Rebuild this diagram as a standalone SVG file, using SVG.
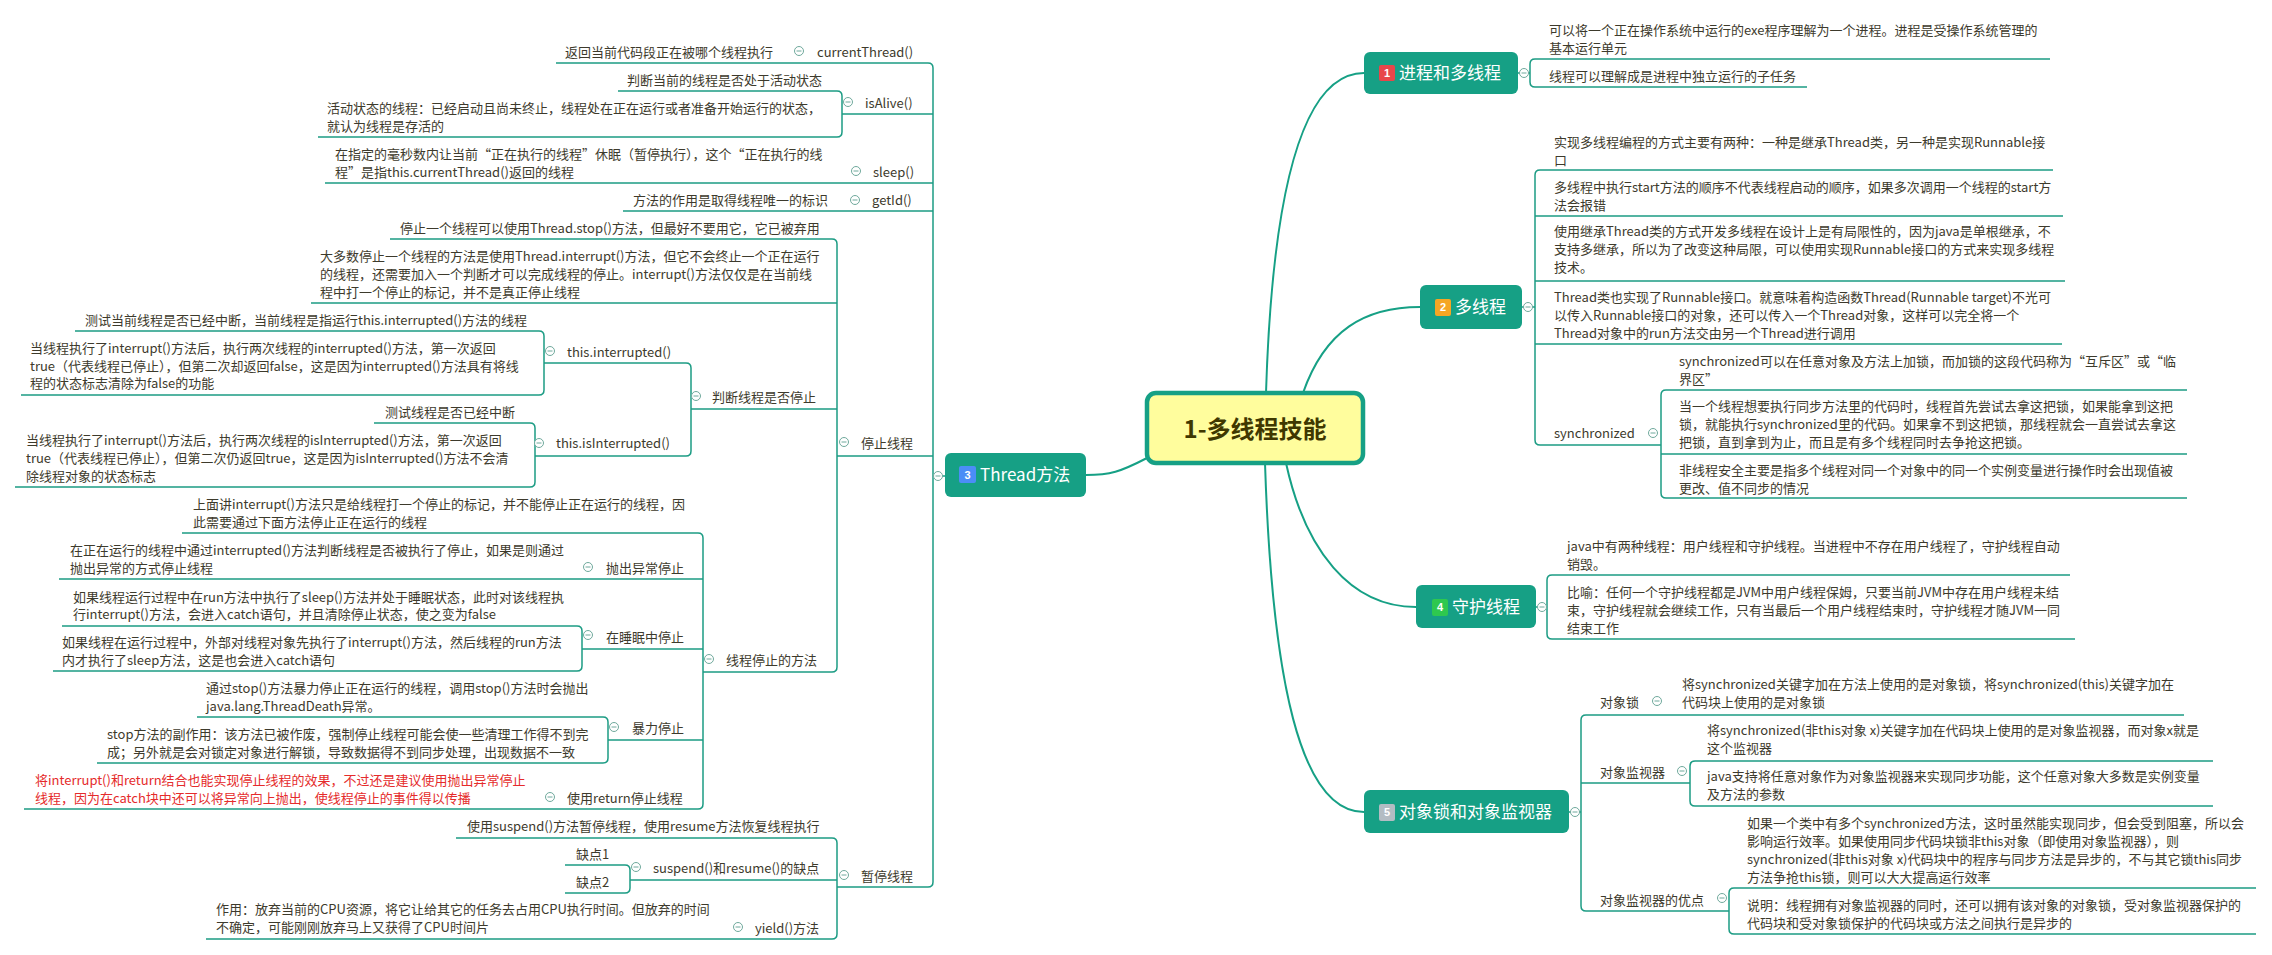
<svg xmlns="http://www.w3.org/2000/svg" width="2272" height="955" viewBox="0 0 2272 955">
<style>
.l{fill:none;stroke:#1c9c84;stroke-width:1.5}
.m{fill:none;stroke:#16a085;stroke-width:2}
.t{font-family:"Noto Sans CJK SC","Microsoft YaHei",sans-serif;font-size:13px;fill:#3d3a2c}
.r{fill:#e52b2b}
.n{fill:#16a085}
.nt{font-family:"Noto Sans CJK SC","Microsoft YaHei",sans-serif;font-size:17px;fill:#ffffff}
.b{font-family:"Liberation Sans",Arial,sans-serif;font-size:11px;font-weight:bold;fill:#ffffff;text-anchor:middle}
.cc{fill:#ffffff;stroke:#6fa99c;stroke-width:1}
.cm{stroke:#6fa99c;stroke-width:1}
</style>
<defs>
<g id="col"><circle class="cc" cx="0" cy="0" r="4.5"/><line class="cm" x1="-2.5" y1="0" x2="2.5" y2="0"/></g>
</defs>
<rect width="2272" height="955" fill="#ffffff"/>

<g id="connectors">
<path class="m" d="M1266,393 C1272,200 1300,73 1364,73"/>
<path class="m" d="M1303,393 C1325,330 1365,307 1420,307"/>
<path class="m" d="M1286,463 C1305,550 1350,607 1416,607"/>
<path class="m" d="M1265,463 C1272,680 1300,812 1364,812"/>
<path class="m" d="M1147,458 C1120,472 1110,475 1086,475"/>
<!-- right -->
<path class="l" d="M1518,73 H1530"/>
<path class="l" d="M2050,59 H1535 Q1530,59 1530,64 V82 Q1530,87 1535,87 H1807"/>
<path class="l" d="M1522,307 H1535"/>
<path class="l" d="M2053,170 H1540 Q1535,170 1535,175 V440 Q1535,445 1540,445 H1661"/>
<path class="l" d="M1535,216 H2063 M1535,281 H2065 M1535,344 H2062"/>
<path class="l" d="M2187,390 H1666 Q1661,390 1661,395 V493 Q1661,498 1666,498 H2187 M1661,454 H2187"/>
<path class="l" d="M1536,607 H1547"/>
<path class="l" d="M2070,575 H1552 Q1547,575 1547,580 V634 Q1547,639 1552,639 H2075"/>
<path class="l" d="M1569,812 H1581"/>
<path class="l" d="M2184,715 H1586 Q1581,715 1581,720 V906 Q1581,911 1586,911 H1729 M1581,783 H1690"/>
<path class="l" d="M2213,761 H1695 Q1690,761 1690,766 V801 Q1690,806 1695,806 H2213"/>
<path class="l" d="M2256,888 H1734 Q1729,888 1729,893 V929 Q1729,934 1734,934 H2256"/>
<!-- left -->
<path class="l" d="M933,476 H945"/>
<path class="l" d="M556,63 H928 Q933,63 933,68 V882 Q933,887 928,887 H837 M842,114 H933 M325,183 H933 M623,211 H933 M837,456 H933"/>
<path class="l" d="M618,91 H837 Q842,91 842,96 V132 Q842,137 837,137 H318"/>
<path class="l" d="M390,239 H832 Q837,239 837,244 V667 Q837,672 832,672 H703 M311,303 H837 M691,409 H837"/>
<path class="l" d="M544,363 H686 Q691,363 691,368 V451 Q691,456 686,456 H535"/>
<path class="l" d="M75,331 H539 Q544,331 544,336 V390 Q544,395 539,395 H21"/>
<path class="l" d="M374,423 H530 Q535,423 535,428 V482 Q535,487 530,487 H15"/>
<path class="l" d="M182,533 H698 Q703,533 703,538 V804 Q703,809 698,809 H24 M59,579 H703 M582,649 H703 M608,740 H703"/>
<path class="l" d="M62,626 H577 Q582,626 582,631 V666 Q582,671 577,671 H53"/>
<path class="l" d="M197,717 H603 Q608,717 608,722 V758 Q608,763 603,763 H97"/>
<path class="l" d="M456,838 H832 Q837,838 837,843 V934 Q837,939 832,939 H206 M630,880 H837"/>
<path class="l" d="M565,865 H625 Q630,865 630,870 V888 Q630,893 625,893 H565"/>
</g>

<g id="root">
<rect x="1147" y="393" width="216" height="70" rx="9" fill="#fffd9d" stroke="#16a085" stroke-width="4.5"/>
<text x="1255" y="438" text-anchor="middle" font-family="'Noto Sans CJK SC','Microsoft YaHei',sans-serif" font-size="24" font-weight="bold" fill="#3f3800">1-多线程技能</text>
</g>

<g id="n1">
<rect class="n" x="1364" y="52" width="154" height="42" rx="6"/>
<rect x="1379" y="65" width="16" height="16" rx="2" fill="#e8464a"/>
<text class="b" x="1387" y="77">1</text>
<text class="nt" x="1399" y="79">进程和多线程</text>
<use href="#col" x="1524" y="73"/>
<text class="t" x="1549" y="35">可以将一个正在操作系统中运行的exe程序理解为一个进程。进程是受操作系统管理的</text>
<text class="t" x="1549" y="53">基本运行单元</text>
<text class="t" x="1549" y="81">线程可以理解成是进程中独立运行的子任务</text>
</g>

<g id="n2">
<rect class="n" x="1420" y="285" width="102" height="44" rx="6"/>
<rect x="1435" y="299" width="16" height="17" rx="2" fill="#f5a623"/>
<text class="b" x="1443" y="311">2</text>
<text class="nt" x="1455" y="313">多线程</text>
<use href="#col" x="1528" y="307"/>
<text class="t" x="1554" y="147">实现多线程编程的方式主要有两种：一种是继承Thread类，另一种是实现Runnable接</text>
<text class="t" x="1554" y="165">口</text>
<text class="t" x="1554" y="192">多线程中执行start方法的顺序不代表线程启动的顺序，如果多次调用一个线程的start方</text>
<text class="t" x="1554" y="210">法会报错</text>
<text class="t" x="1554" y="236">使用继承Thread类的方式开发多线程在设计上是有局限性的，因为java是单根继承，不</text>
<text class="t" x="1554" y="254">支持多继承，所以为了改变这种局限，可以使用实现Runnable接口的方式来实现多线程</text>
<text class="t" x="1554" y="272">技术。</text>
<text class="t" x="1554" y="302">Thread类也实现了Runnable接口。就意味着构造函数Thread(Runnable target)不光可</text>
<text class="t" x="1554" y="320">以传入Runnable接口的对象，还可以传入一个Thread对象，这样可以完全将一个</text>
<text class="t" x="1554" y="338">Thread对象中的run方法交由另一个Thread进行调用</text>
</g>

<g id="n2-sync">
<text class="t" x="1554" y="438">synchronized</text>
<use href="#col" x="1653" y="433"/>
<text class="t" x="1679" y="366">synchronized可以在任意对象及方法上加锁，而加锁的这段代码称为“互斥区”或“临</text>
<text class="t" x="1679" y="384">界区”</text>
<text class="t" x="1679" y="411">当一个线程想要执行同步方法里的代码时，线程首先尝试去拿这把锁，如果能拿到这把</text>
<text class="t" x="1679" y="429">锁，就能执行synchronized里的代码。如果拿不到这把锁，那线程就会一直尝试去拿这</text>
<text class="t" x="1679" y="447">把锁，直到拿到为止，而且是有多个线程同时去争抢这把锁。</text>
<text class="t" x="1679" y="475">非线程安全主要是指多个线程对同一个对象中的同一个实例变量进行操作时会出现值被</text>
<text class="t" x="1679" y="493">更改、值不同步的情况</text>
</g>

<g id="n4">
<rect class="n" x="1416" y="585" width="120" height="43" rx="6"/>
<rect x="1432" y="599" width="16" height="17" rx="2" fill="#2ec84f"/>
<text class="b" x="1440" y="611">4</text>
<text class="nt" x="1452" y="613">守护线程</text>
<use href="#col" x="1542" y="607"/>
<text class="t" x="1567" y="551">java中有两种线程：用户线程和守护线程。当进程中不存在用户线程了，守护线程自动</text>
<text class="t" x="1567" y="569">销毁。</text>
<text class="t" x="1567" y="597">比喻：任何一个守护线程都是JVM中用户线程保姆，只要当前JVM中存在用户线程未结</text>
<text class="t" x="1567" y="615">束，守护线程就会继续工作，只有当最后一个用户线程结束时，守护线程才随JVM一同</text>
<text class="t" x="1567" y="633">结束工作</text>
</g>

<g id="n5">
<rect class="n" x="1364" y="790" width="205" height="43" rx="6"/>
<rect x="1379" y="804" width="16" height="17" rx="2" fill="#b3bcc3"/>
<text class="b" x="1387" y="816">5</text>
<text class="nt" x="1399" y="818">对象锁和对象监视器</text>
<use href="#col" x="1575" y="812"/>
<text class="t" x="1600" y="707">对象锁</text>
<use href="#col" x="1657" y="701"/>
<text class="t" x="1682" y="689">将synchronized关键字加在方法上使用的是对象锁，将synchronized(this)关键字加在</text>
<text class="t" x="1682" y="707">代码块上使用的是对象锁</text>
<text class="t" x="1600" y="777">对象监视器</text>
<use href="#col" x="1682" y="771"/>
<text class="t" x="1707" y="735">将synchronized(非this对象 x)关键字加在代码块上使用的是对象监视器，而对象x就是</text>
<text class="t" x="1707" y="753">这个监视器</text>
<text class="t" x="1707" y="781">java支持将任意对象作为对象监视器来实现同步功能，这个任意对象大多数是实例变量</text>
<text class="t" x="1707" y="799">及方法的参数</text>
<text class="t" x="1600" y="905">对象监视器的优点</text>
<use href="#col" x="1722" y="898"/>
<text class="t" x="1747" y="828">如果一个类中有多个synchronized方法，这时虽然能实现同步，但会受到阻塞，所以会</text>
<text class="t" x="1747" y="846">影响运行效率。如果使用同步代码块锁非this对象（即使用对象监视器），则</text>
<text class="t" x="1747" y="864">synchronized(非this对象 x)代码块中的程序与同步方法是异步的，不与其它锁this同步</text>
<text class="t" x="1747" y="882">方法争抢this锁，则可以大大提高运行效率</text>
<text class="t" x="1747" y="910">说明：线程拥有对象监视器的同时，还可以拥有该对象的对象锁，受对象监视器保护的</text>
<text class="t" x="1747" y="928">代码块和受对象锁保护的代码块或方法之间执行是异步的</text>
</g>

<g id="n3">
<rect class="n" x="945" y="453" width="141" height="44" rx="6"/>
<rect x="959" y="466" width="17" height="17" rx="2" fill="#4b8df6"/>
<text class="b" x="967.5" y="479">3</text>
<text class="nt" x="980" y="481">Thread方法</text>
<use href="#col" x="938" y="476"/>
</g>

<g id="n3-basic">
<text class="t" x="565" y="57">返回当前代码段正在被哪个线程执行</text>
<use href="#col" x="799" y="51"/>
<text class="t" x="817" y="57">currentThread()</text>
<text class="t" x="627" y="85">判断当前的线程是否处于活动状态</text>
<text class="t" x="327" y="113">活动状态的线程：已经启动且尚未终止，线程处在正在运行或者准备开始运行的状态，</text>
<text class="t" x="327" y="131">就认为线程是存活的</text>
<use href="#col" x="848" y="102"/>
<text class="t" x="865" y="108">isAlive()</text>
<text class="t" x="335" y="159">在指定的毫秒数内让当前“正在执行的线程”休眠（暂停执行），这个“正在执行的线</text>
<text class="t" x="335" y="177">程”是指this.currentThread()返回的线程</text>
<use href="#col" x="856" y="171"/>
<text class="t" x="873" y="177">sleep()</text>
<text class="t" x="633" y="205">方法的作用是取得线程唯一的标识</text>
<use href="#col" x="855" y="200"/>
<text class="t" x="872" y="205">getId()</text>
</g>

<g id="n3-stop">
<use href="#col" x="844" y="442"/>
<text class="t" x="861" y="448">停止线程</text>
<text class="t" x="400" y="233">停止一个线程可以使用Thread.stop()方法，但最好不要用它，它已被弃用</text>
<text class="t" x="320" y="261">大多数停止一个线程的方法是使用Thread.interrupt()方法，但它不会终止一个正在运行</text>
<text class="t" x="320" y="279">的线程，还需要加入一个判断才可以完成线程的停止。interrupt()方法仅仅是在当前线</text>
<text class="t" x="320" y="297">程中打一个停止的标记，并不是真正停止线程</text>
<use href="#col" x="696" y="396"/>
<text class="t" x="712" y="402">判断线程是否停止</text>
<use href="#col" x="550" y="351"/>
<text class="t" x="567" y="357">this.interrupted()</text>
<text class="t" x="85" y="325">测试当前线程是否已经中断，当前线程是指运行this.interrupted()方法的线程</text>
<text class="t" x="30" y="353">当线程执行了interrupt()方法后，执行两次线程的interrupted()方法，第一次返回</text>
<text class="t" x="30" y="371">true（代表线程已停止），但第二次却返回false，这是因为interrupted()方法具有将线</text>
<text class="t" x="30" y="388">程的状态标志清除为false的功能</text>
<use href="#col" x="539" y="443"/>
<text class="t" x="556" y="448">this.isInterrupted()</text>
<text class="t" x="385" y="417">测试线程是否已经中断</text>
<text class="t" x="26" y="445">当线程执行了interrupt()方法后，执行两次线程的isInterrupted()方法，第一次返回</text>
<text class="t" x="26" y="463">true（代表线程已停止），但第二次仍返回true，这是因为isInterrupted()方法不会清</text>
<text class="t" x="26" y="481">除线程对象的状态标志</text>
</g>

<g id="n3-methods">
<use href="#col" x="709" y="659"/>
<text class="t" x="726" y="665">线程停止的方法</text>
<text class="t" x="193" y="509">上面讲interrupt()方法只是给线程打一个停止的标记，并不能停止正在运行的线程，因</text>
<text class="t" x="193" y="527">此需要通过下面方法停止正在运行的线程</text>
<text class="t" x="70" y="555">在正在运行的线程中通过interrupted()方法判断线程是否被执行了停止，如果是则通过</text>
<text class="t" x="70" y="573">抛出异常的方式停止线程</text>
<use href="#col" x="588" y="567"/>
<text class="t" x="606" y="573">抛出异常停止</text>
<text class="t" x="73" y="602">如果线程运行过程中在run方法中执行了sleep()方法并处于睡眠状态，此时对该线程执</text>
<text class="t" x="73" y="619">行interrupt()方法，会进入catch语句，并且清除停止状态，使之变为false</text>
<text class="t" x="62" y="647">如果线程在运行过程中，外部对线程对象先执行了interrupt()方法，然后线程的run方法</text>
<text class="t" x="62" y="665">内才执行了sleep方法，这是也会进入catch语句</text>
<use href="#col" x="588" y="635"/>
<text class="t" x="606" y="642">在睡眠中停止</text>
<text class="t" x="206" y="693">通过stop()方法暴力停止正在运行的线程，调用stop()方法时会抛出</text>
<text class="t" x="206" y="711">java.lang.ThreadDeath异常。</text>
<text class="t" x="107" y="739">stop方法的副作用：该方法已被作废，强制停止线程可能会使一些清理工作得不到完</text>
<text class="t" x="107" y="757">成；另外就是会对锁定对象进行解锁，导致数据得不到同步处理，出现数据不一致</text>
<use href="#col" x="614" y="727"/>
<text class="t" x="632" y="733">暴力停止</text>
<text class="t r" x="35" y="785">将interrupt()和return结合也能实现停止线程的效果，不过还是建议使用抛出异常停止</text>
<text class="t r" x="35" y="803">线程，因为在catch块中还可以将异常向上抛出，使线程停止的事件得以传播</text>
<use href="#col" x="550" y="797"/>
<text class="t" x="567" y="803">使用return停止线程</text>
</g>

<g id="n3-pause">
<use href="#col" x="844" y="875"/>
<text class="t" x="861" y="881">暂停线程</text>
<text class="t" x="467" y="831">使用suspend()方法暂停线程，使用resume方法恢复线程执行</text>
<text class="t" x="576" y="859">缺点1</text>
<text class="t" x="576" y="887">缺点2</text>
<use href="#col" x="636" y="867"/>
<text class="t" x="653" y="873">suspend()和resume()的缺点</text>
<text class="t" x="216" y="914">作用：放弃当前的CPU资源，将它让给其它的任务去占用CPU执行时间。但放弃的时间</text>
<text class="t" x="216" y="932">不确定，可能刚刚放弃马上又获得了CPU时间片</text>
<use href="#col" x="738" y="927"/>
<text class="t" x="755" y="933">yield()方法</text>
</g>
</svg>
